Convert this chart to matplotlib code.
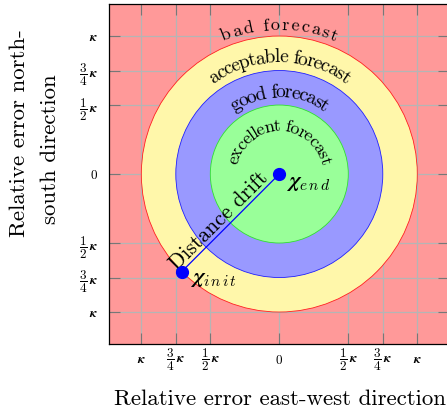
import numpy as np
import matplotlib
matplotlib.use("Agg")
import matplotlib.pyplot as plt
from matplotlib.patches import Circle
from matplotlib.font_manager import FontProperties

plt.rcParams['font.family'] = ['cmr10', 'DejaVu Serif']
plt.rcParams['mathtext.fontset'] = 'cm'
plt.rcParams['axes.unicode_minus'] = False

# zones: radius (in units of kappa), fill, edge, label, label radius
zone_radius = [1.0, 0.75, 0.5]
zone_fill = ['#fff7aa', '#9999ff', '#99ff99']
zone_edge = ['#ff2020', '#2020ff', '#30e030']
zone_label = ['acceptable forecast', 'good forecast', 'excellent forecast']
label_radius = [0.81, 0.555, 0.31]
bad_label = 'bad forecast'

tick_pos = [-1, -0.75, -0.5, 0, 0.5, 0.75, 1]
k = r'\boldsymbol{\kappa}'
tick_lab = ['$' + k + '$', r'$\dfrac{3}{4}\,' + k + '$', r'$\dfrac{1}{2}\,' + k + '$', '$0$',
            r'$\dfrac{1}{2}\,' + k + '$', r'$\dfrac{3}{4}\,' + k + '$', '$' + k + '$']

x_init, y_init = -0.707, -0.707
x_end, y_end = 0.0, 0.0

fig = plt.figure(figsize=(4.47, 4.12), dpi=100)
ax = fig.add_axes([109.3 / 447, 67.7 / 412, 340 / 447, 340 / 412])
ax.set_xlim(-1.232, 1.232)
ax.set_ylim(-1.234, 1.23)
ax.set_facecolor('#ff9999')

ax.set_xticks(tick_pos)
ax.set_xticklabels(tick_lab)
ax.set_yticks(tick_pos)
ax.set_yticklabels(tick_lab)
ax.tick_params(direction='in', length=8, width=0.8, color='#777777', labelsize=9.5,
               top=True, right=True)
ax.tick_params(axis='x', pad=11.5)
ax.tick_params(axis='y', pad=8)
for t in ax.get_xticklabels():
    t.set_verticalalignment('center')
ax.grid(True, color='#b5b5b5', linewidth=0.9)
ax.set_axisbelow(True)
for s in ax.spines.values():
    s.set_linewidth(0.9)

for r, fc, ec in zip(zone_radius, zone_fill, zone_edge):
    ax.add_patch(Circle((0, 0), r, facecolor=fc, edgecolor=ec, linewidth=0.6, zorder=2))

fig.canvas.draw()
renderer = fig.canvas.get_renderer()
px_per_unit = ax.transData.transform((1, 0))[0] - ax.transData.transform((0, 0))[0]


def text_w(s, fp):
    w, h, d = renderer.get_text_width_height_descent(s, fp, ismath=False)
    return w


# puts a string along an arc centred on the top of the circle
def curved_text(s, radius, size, spacing=0.0):
    fp = FontProperties(family='cmr10', size=size)
    base = text_w('xx', fp)
    adv = [text_w('x' + ch + 'x', fp) - base + spacing for ch in s]
    total = sum(adv) - spacing
    r_px = radius * px_per_unit
    pos = 0.0
    for ch, a in zip(s, adv):
        c = pos + (a - spacing) / 2 - total / 2
        th = np.pi / 2 - c / r_px
        ax.text(radius * np.cos(th), radius * np.sin(th), ch, fontproperties=fp,
                rotation=np.degrees(th) - 90, rotation_mode='anchor',
                ha='center', va='baseline', zorder=5)
        pos += a


curved_text(bad_label, 1.045, 13, spacing=1.8)
curved_text(zone_label[0], label_radius[0], 14, spacing=-1.0)
curved_text(zone_label[1], label_radius[1], 14, spacing=-1.3)
curved_text(zone_label[2], label_radius[2], 13, spacing=-1.1)

ax.plot([x_init, x_end], [y_init, y_end], color='#0000ff', linewidth=0.9, zorder=6)
ax.plot([x_init, x_end], [y_init, y_end], 'o', color='#0000ff', markersize=8.5, zorder=7)
ax.text(0.045, -0.065, r'$\boldsymbol{\chi}_{e\,n\,d}$', fontsize=16, ha='left', va='center', zorder=7)
ax.text(-0.65, -0.76, r'$\boldsymbol{\chi}_{i\,n\,i\,t}$', fontsize=16, ha='left', va='center', zorder=7)

mx, my = 0.55 * x_init, 0.55 * y_init
ax.text(mx - 0.02, my + 0.02, 'Distance drift', fontsize=15.5, rotation=45,
        rotation_mode='anchor', ha='center', va='baseline', zorder=6)

fig.text(280 / 447, 1 - 399 / 412, 'Relative error east-west direction', fontsize=16.5,
         ha='center', va='center')
fig.text(19 / 447, 1 - 133 / 412, 'Relative error north-', fontsize=16.5,
         rotation=90, ha='center', va='center')
fig.text(50 / 447, 1 - 149 / 412, 'south direction', fontsize=16.5,
         rotation=90, ha='center', va='center')

fig.savefig('out.png', dpi=100)
